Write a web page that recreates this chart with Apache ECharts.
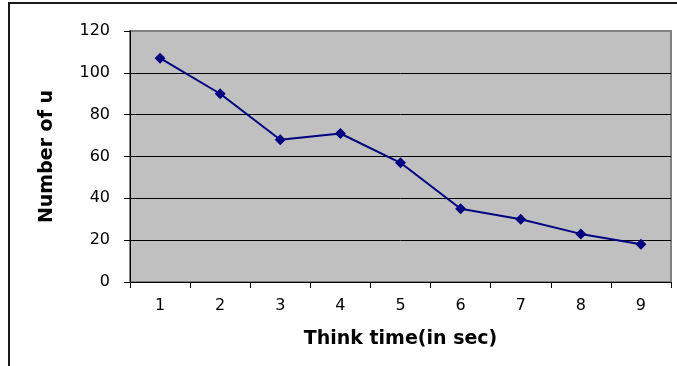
<!DOCTYPE html>
<html>
<head>
<meta charset="utf-8">
<script src="https://cdn.jsdelivr.net/npm/echarts@6/dist/echarts.min.js"></script>
<style>
  html, body { margin: 0; padding: 0; background: #fff; }
  #chart { width: 677px; height: 366px; }
</style>
</head>
<body>
<div id="chart"></div>
<script>
// Think time (seconds) on the x axis, number of users on the y axis
const thinkTimes = ['1', '2', '3', '4', '5', '6', '7', '8', '9'];
const userCounts = [107, 90, 68, 71, 57, 35, 30, 23, 18];
const yTicks = { min: 0, max: 120, interval: 20 };

const chart = echarts.init(document.getElementById('chart'), null, { renderer: 'canvas' });

chart.setOption({
  animation: false,
  backgroundColor: '#ffffff',
  graphic: [{
    type: 'rect',
    shape: { x: 9, y: 3, width: 720, height: 420 },
    style: { fill: 'none', stroke: '#1a1a1a', lineWidth: 2 },
    silent: true,
    z: 100
  }],
  grid: {
    left: 130, top: 31, right: 6, bottom: 84,
    show: true,
    backgroundColor: '#c0c0c0',
    borderColor: '#808080',
    borderWidth: 2
  },
  xAxis: {
    type: 'category',
    data: thinkTimes,
    boundaryGap: true,
    name: 'Think time(in sec)',
    nameLocation: 'middle',
    nameGap: 48,
    nameTextStyle: { fontFamily: 'DejaVu Sans', fontWeight: 'bold', fontSize: 19, color: '#000' },
    axisLine: { show: true, lineStyle: { color: '#000', width: 1 } },
    axisTick: { show: true, alignWithLabel: false, length: 6, lineStyle: { color: '#000' } },
    axisLabel: { fontFamily: 'DejaVu Sans', fontSize: 16, color: '#000', margin: 16 },
    splitLine: { show: false }
  },
  yAxis: {
    type: 'value',
    min: yTicks.min,
    max: yTicks.max,
    interval: yTicks.interval,
    name: 'Number of u',
    nameLocation: 'middle',
    nameGap: 73,
    nameTextStyle: { fontFamily: 'DejaVu Sans', fontWeight: 'bold', fontSize: 19, color: '#000' },
    axisLine: { show: true, lineStyle: { color: '#000', width: 1 } },
    axisTick: { show: true, length: 6, lineStyle: { color: '#000' } },
    axisLabel: { fontFamily: 'DejaVu Sans', fontSize: 16, color: '#000', margin: 20 },
    splitLine: {
      show: true,
      lineStyle: {
        color: ['#000', '#000', '#000', '#000', '#000', '#000', '#808080'],
        width: 1
      }
    }
  },
  series: [{
    type: 'line',
    data: userCounts,
    symbol: 'diamond',
    symbolSize: [11, 11],
    lineStyle: { color: '#000080', width: 2 },
    itemStyle: { color: '#000080' }
  }]
});
</script>
</body>
</html>
